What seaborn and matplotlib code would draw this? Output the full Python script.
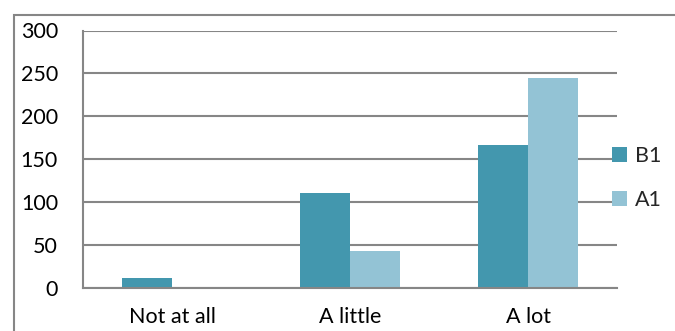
import matplotlib
matplotlib.use("Agg")
import matplotlib.pyplot as plt
from matplotlib.patches import Rectangle
import seaborn as sns
import pandas as pd

categories = ["Not at all", "A little", "A lot"]
series = ["B1", "A1"]
b1_values = [12, 111, 167]
a1_values = [0, 43, 245]
yticks = [0, 50, 100, 150, 200, 250, 300]

df = pd.DataFrame({
    "category": categories * 2,
    "series": ["B1"] * 3 + ["A1"] * 3,
    "value": b1_values + a1_values,
})

sns.set_style("white")
plt.rcParams["font.family"] = ["Lato", "DejaVu Sans"]

grid_col = "#868686"
colors = {"B1": "#4397AE", "A1": "#93C3D5"}
fsize = 15.5

fig = plt.figure(figsize=(6.75, 3.31), dpi=100)
ax = fig.add_axes([83 / 675, 1 - 288 / 331, (617 - 83) / 675, (288 - 30.5) / 331])

sns.barplot(data=df, x="category", y="value", hue="series", hue_order=series,
            palette=colors, width=0.56, gap=0, saturation=1, linewidth=0,
            ax=ax, legend=True)

ax.set_ylim(0, 300)
ax.set_xlim(-0.5, 2.5)
ax.set_yticks(yticks)
ax.set_xlabel("")
ax.set_ylabel("")

ax.yaxis.grid(True, color=grid_col, linewidth=1.5)
ax.set_axisbelow(True)
for s in ["top", "right"]:
    ax.spines[s].set_visible(False)
for s in ["left", "bottom"]:
    ax.spines[s].set_color(grid_col)
    ax.spines[s].set_linewidth(1.5)

ax.tick_params(axis="y", length=6, width=1.5, color=grid_col, pad=12, labelsize=fsize, labelcolor="black")
ax.tick_params(axis="x", which="major", length=0, pad=14, labelsize=fsize, labelcolor="black")
ax.set_xticks([-0.5, 0.5, 1.5, 2.5], minor=True)
ax.tick_params(axis="x", which="minor", length=6, width=1.5, color=grid_col)

leg = ax.legend(loc="center left", bbox_to_anchor=(612 / 675, 1 - 178 / 331),
                bbox_transform=fig.transFigure, frameon=False, fontsize=fsize,
                handlelength=0.7, handleheight=0.7, handletextpad=0.35,
                labelspacing=1.1, borderaxespad=0, borderpad=0)

fig.add_artist(Rectangle((14 / 675, -0.2), 1.2, 1.2 - 15 / 331, transform=fig.transFigure,
                         fill=False, edgecolor=grid_col, linewidth=1.5, clip_on=False))

fig.savefig("out.png", dpi=100)
